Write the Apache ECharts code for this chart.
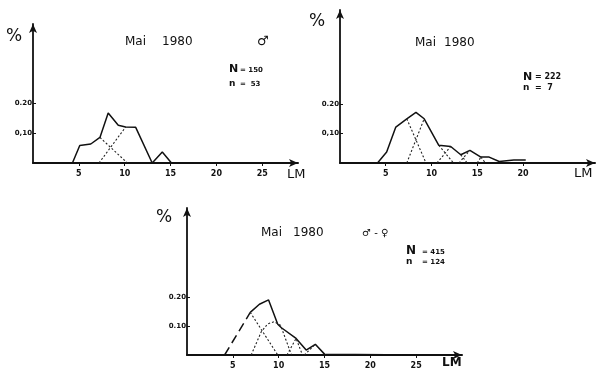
<!DOCTYPE html>
<html><head><meta charset="utf-8">
<script src="https://cdn.jsdelivr.net/npm/echarts@6/dist/echarts.min.js"></script>
<style>html,body{margin:0;padding:0;background:#fff}#c{width:600px;height:375px}</style>
</head><body><div id="c"></div>
<script>
// ---------- data (LM classes vs proportion) ----------
// Panel 1 : Mai 1980, males, N = 150, n = 53
const p1X = [4.3, 5.1, 6.3, 7.3, 8.2, 9.3, 10.1, 11.2, 13.0, 14.1, 15.1, 17.5];
const p1Y = [0, 0.059, 0.064, 0.086, 0.168, 0.127, 0.121, 0.120, 0, 0.037, 0, 0];
const p1Comp = [
  [[7.3, 0.086], [10.3, 0]],
  [[7.2, 0], [10.1, 0.121]]
];
// Panel 2 : Mai 1980, N = 222, n = 7
const p2X = [4.1, 5.1, 6.1, 7.3, 8.3, 9.2, 10.8, 12.1, 13.2, 14.2, 15.4, 16.3, 17.4, 19.0, 20.3];
const p2Y = [0, 0.037, 0.122, 0.150, 0.172, 0.150, 0.060, 0.056, 0.028, 0.043, 0.020, 0.020, 0.005, 0.010, 0.010];
const p2Comp = [
  [[7.3, 0.150], [9.4, 0]],
  [[7.3, 0], [9.2, 0.150]],
  [[10.8, 0.060], [12.4, 0]],
  [[10.6, 0], [12.1, 0.056]],
  [[13.2, 0.028], [13.9, 0]],
  [[13.0, 0], [14.2, 0.043]],
  [[15.4, 0.020], [15.9, 0]],
  [[15.0, 0], [15.4, 0.020]]
];
// Panel 3 : Mai 1980, males + females, N = 415, n = 124
const p3RiseX = [4.1, 6.9];
const p3RiseY = [0, 0.147];
const p3X = [6.9, 7.9, 8.9, 9.9, 10.3, 11.9, 13.0, 14.0, 15.0, 25.1];
const p3Y = [0.147, 0.175, 0.190, 0.106, 0.094, 0.057, 0.017, 0.037, 0.003, 0];
const p3Comp = [
  [[6.9, 0.147], [9.9, 0]],
  [[7.0, 0], [8.1, 0.080], [8.8, 0.107], [9.5, 0.115], [10.2, 0.103], [11.4, 0]],
  [[10.9, 0], [11.9, 0.057], [12.6, 0]],
  [[12.8, 0], [14.0, 0.037]]
];
// tick labels
const xTicksA = [5, 10, 15, 20, 25];
const xTicksB = [5, 10, 15, 20];
const yTicks = [0.1, 0.2];
const yLabels1 = ['0,10', '0.20'];
const yLabels2 = ['0,10', '0.20'];
const yLabels3 = ['0.10', '0.20'];

// ---------- chart ----------
const ink = '#111';
const zip = (xs, ys) => xs.map((x, i) => [x, ys[i]]);

const grids = [
  {left: 33, top: 24, width: 265, height: 139},
  {left: 340, top: 10, width: 255, height: 153},
  {left: 187, top: 208, width: 275, height: 147}
].map(g => Object.assign({containLabel: false, outerBoundsMode: 'none', show: false}, g));

function xAx(i, max, ticks) {
  return {
    gridIndex: i, type: 'value', min: 0, max: max,
    axisLine: {show: true, onZero: false, symbol: ['none', 'arrow'], symbolSize: [6, 9],
      lineStyle: {color: ink, width: 2}},
    axisTick: {show: true, customValues: ticks, length: 3, lineStyle: {color: ink, width: 1}},
    axisLabel: {show: true, customValues: ticks, margin: 7, color: ink,
      fontFamily: 'DejaVu Sans', fontWeight: 'bold', fontSize: 8},
    splitLine: {show: false}
  };
}
function yAx(i, max, labels) {
  return {
    gridIndex: i, type: 'value', min: 0, max: max,
    axisLine: {show: true, onZero: false, symbol: ['none', 'arrow'], symbolSize: [6, 9],
      lineStyle: {color: ink, width: 1.8}},
    axisTick: {show: true, inside: true, customValues: yTicks, length: 3, lineStyle: {color: ink, width: 1}},
    axisLabel: {show: true, customValues: yTicks, margin: 1, color: ink,
      fontFamily: 'DejaVu Sans', fontWeight: 'bold', fontSize: 7,
      formatter: v => labels[yTicks.findIndex(t => Math.abs(t - v) < 1e-6)] || ''},
    splitLine: {show: false}
  };
}

const series = [];
function solid(i, data, dash) {
  series.push({type: 'line', xAxisIndex: i, yAxisIndex: i, data: data, showSymbol: false,
    silent: true, animation: false,
    lineStyle: {color: ink, width: 1.5, type: dash || 'solid'}});
}
function dotted(i, comps) {
  comps.forEach(c => series.push({type: 'line', xAxisIndex: i, yAxisIndex: i, data: c,
    showSymbol: false, silent: true, animation: false,
    lineStyle: {color: '#222', width: 1.1, type: [2, 2]}}));
}
solid(0, zip(p1X, p1Y)); dotted(0, p1Comp);
solid(1, zip(p2X, p2Y)); dotted(1, p2Comp);
solid(2, zip(p3RiseX, p3RiseY), [9, 5]); solid(2, zip(p3X, p3Y)); dotted(2, p3Comp);

function t(x, y, text, size, extra) {
  return {type: 'text', x: x, y: y, silent: true,
    style: Object.assign({text: text, fill: ink, fontFamily: 'DejaVu Sans', fontSize: size,
      textVerticalAlign: 'middle', textAlign: 'left'}, extra || {})};
}
const graphic = [
  // panel 1
  t(6, 37, '%', 17), t(125, 42, 'Mai', 12), t(162, 42, '1980', 12), t(257, 42, '♂', 13),
  t(229, 69, 'N', 11, {fontWeight: 'bold'}), t(240, 70, '= 150', 7, {fontWeight: 'bold'}),
  t(229, 84, 'n', 9, {fontWeight: 'bold'}), t(240, 84, '=  53', 7, {fontWeight: 'bold'}),
  t(287, 175, 'LM', 13),
  // panel 2
  t(309, 22, '%', 17), t(415, 43, 'Mai', 12), t(444, 43, '1980', 12),
  t(523, 77, 'N', 11, {fontWeight: 'bold'}), t(535, 77, '= 222', 8, {fontWeight: 'bold'}),
  t(523, 88, 'n', 9, {fontWeight: 'bold'}), t(535, 88, '=  7', 8, {fontWeight: 'bold'}),
  t(574, 174, 'LM', 13),
  // panel 3
  t(156, 218, '%', 17), t(261, 233, 'Mai', 12), t(293, 233, '1980', 12),
  t(362, 233, '♂ - ♀', 10),
  t(406, 251, 'N', 12, {fontWeight: 'bold'}), t(422, 252, '= 415', 7, {fontWeight: 'bold'}),
  t(406, 262, 'n', 9, {fontWeight: 'bold'}), t(422, 262, '= 124', 7, {fontWeight: 'bold'}),
  t(442, 363, 'LM', 12, {fontWeight: 'bold'})
];

const chart = echarts.init(document.getElementById('c'), null, {renderer: 'canvas'});
chart.setOption({
  animation: false,
  backgroundColor: '#fff',
  grid: grids,
  xAxis: [xAx(0, 28.9, xTicksA), xAx(1, 27.87, xTicksB), xAx(2, 30.0, xTicksA)],
  yAxis: [yAx(0, 0.468, yLabels1), yAx(1, 0.519, yLabels2), yAx(2, 0.507, yLabels3)],
  series: series,
  graphic: graphic
});
</script></body></html>
